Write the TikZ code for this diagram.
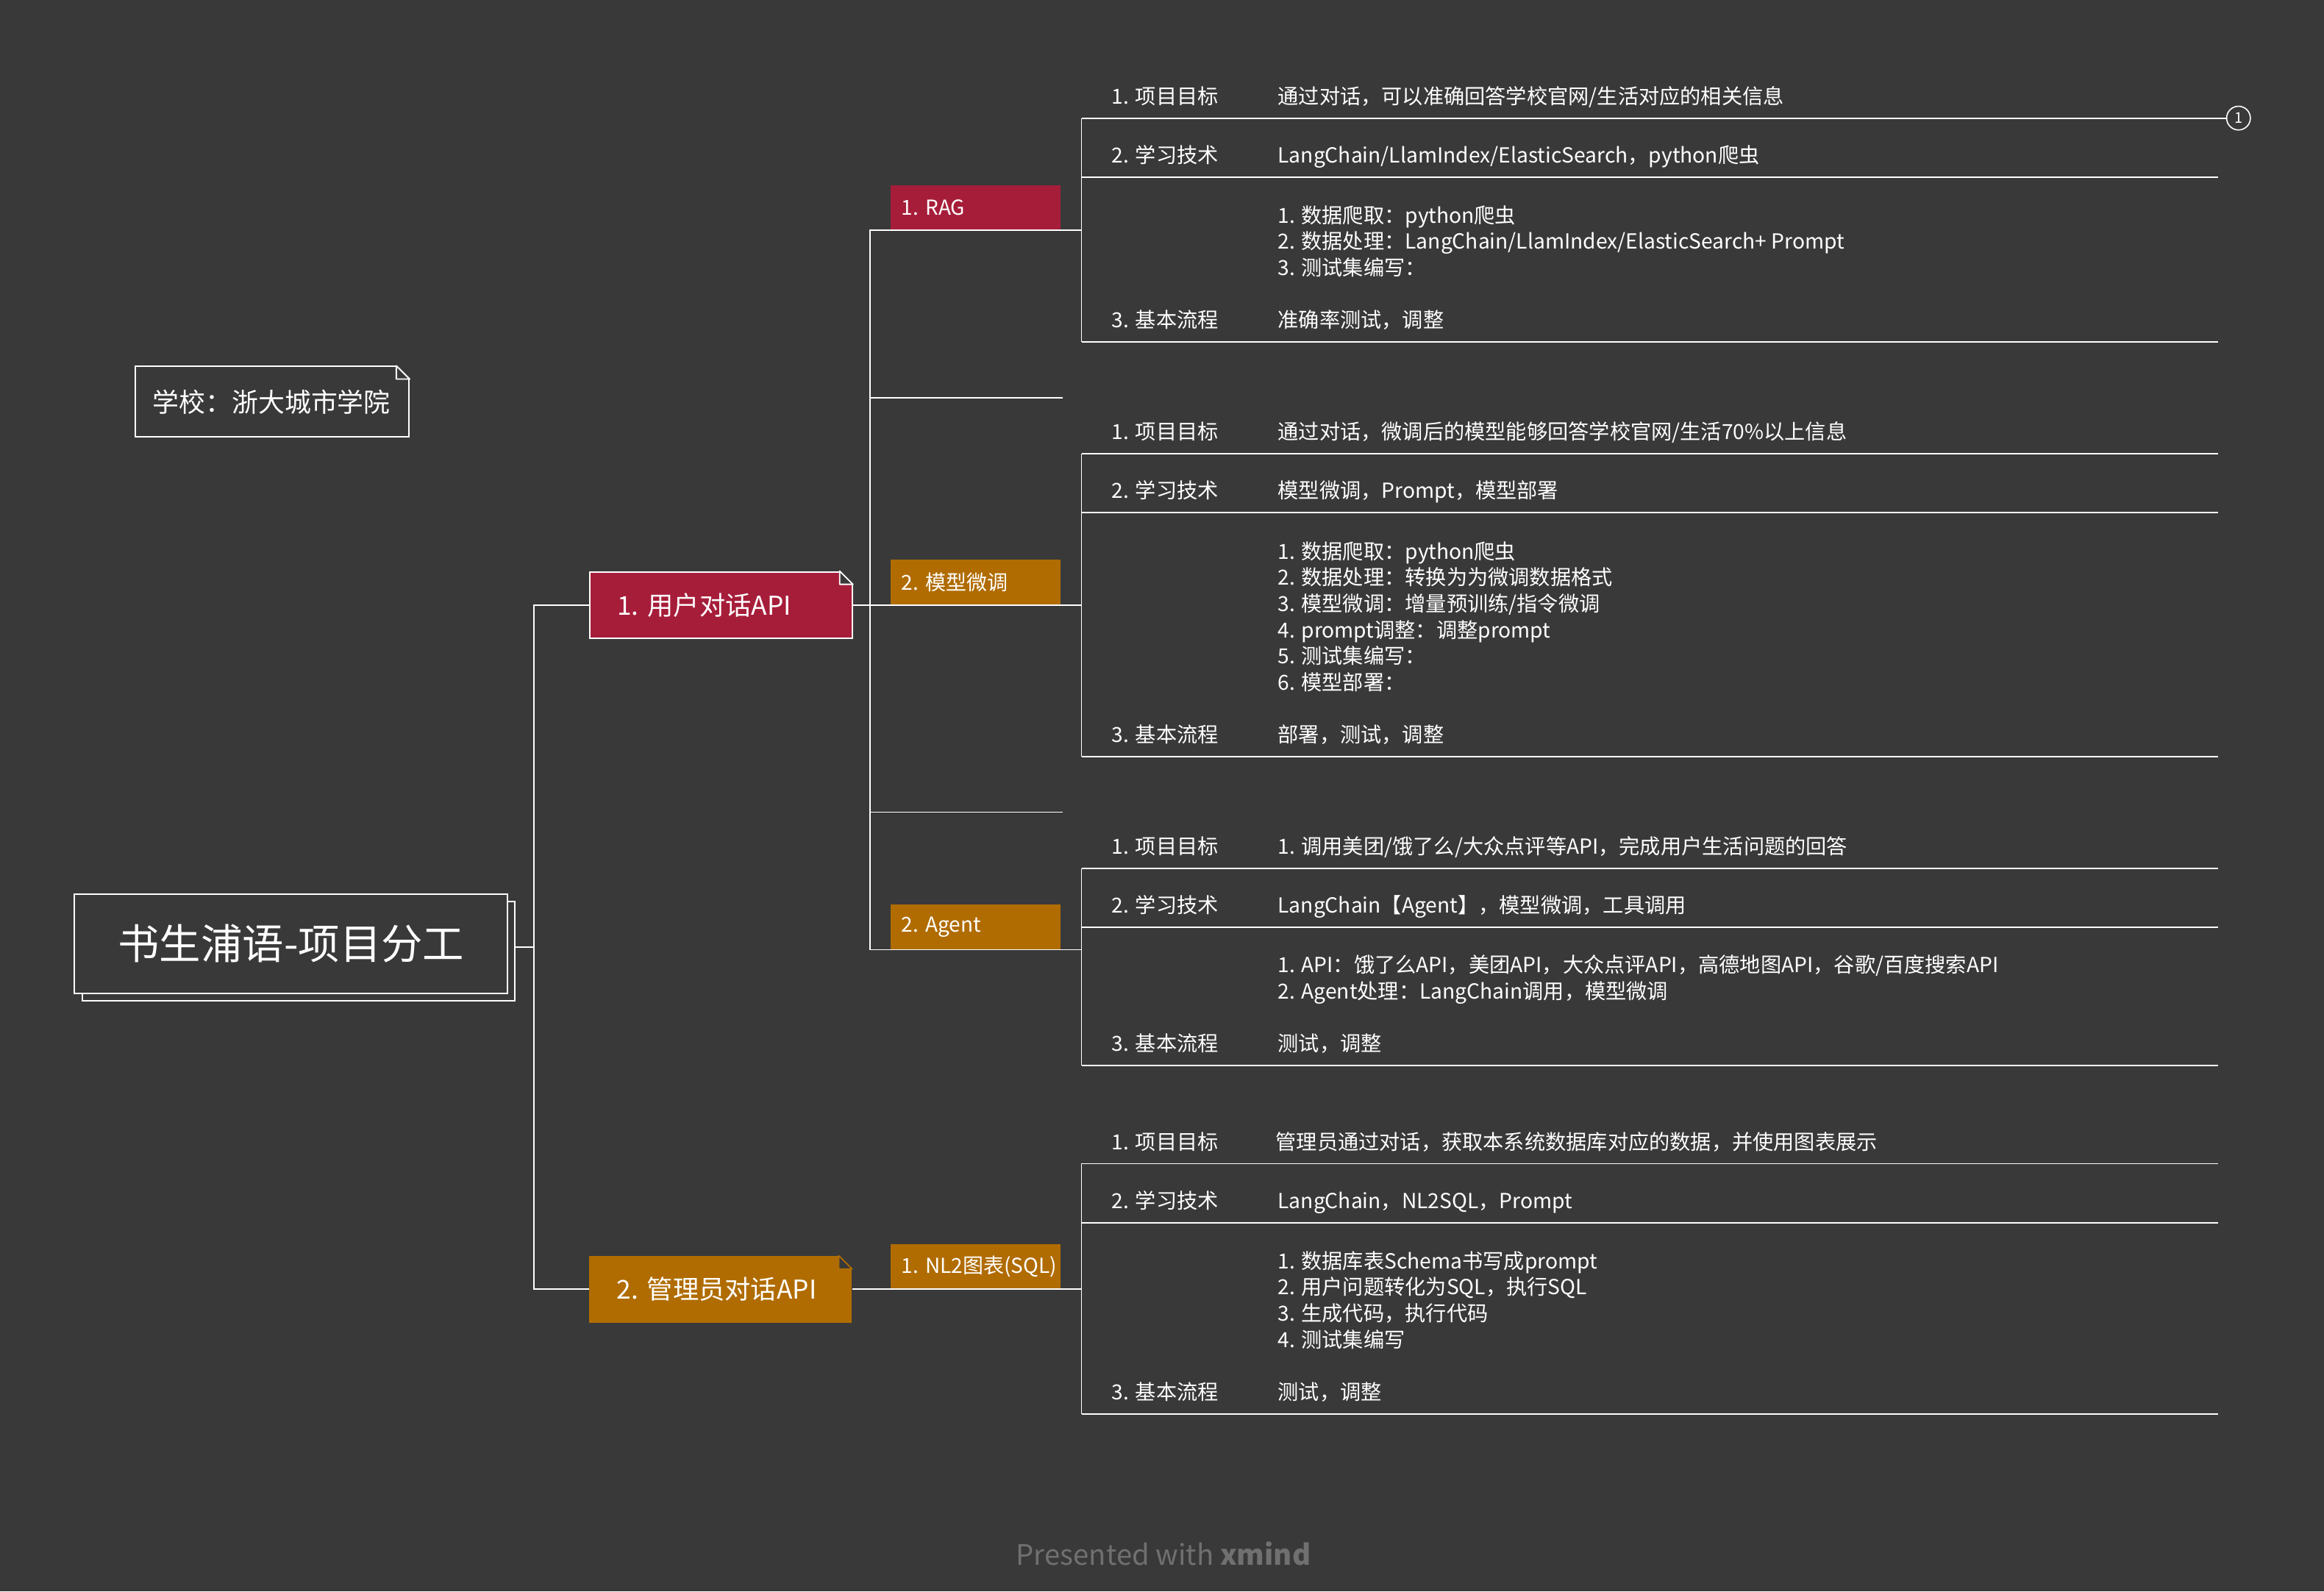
\documentclass[tikz,border=0pt]{standalone}
\usepackage{fontspec}
\setmainfont{Noto Sans CJK SC}
\usetikzlibrary{calc}
\usetikzlibrary{shadows}
\definecolor{bgdark}{RGB}{57,57,57}
\definecolor{topicred}{RGB}{166,29,58}
\definecolor{topicorange}{RGB}{176,108,0}
\definecolor{creditgray}{RGB}{112,112,112}
\newcommand\dogear[2]{%
  \fill[bgdark] ($(#1.north east)+(-9,-1)$) -- ($(#1.north east)+(1,-1)$) -- ($(#1.north east)+(1,9)$) -- ($(#1.north east)+(0,9)$) -- ($(#1.north east)+(-9,0)$) -- cycle;
  \draw[#2, fill=bgdark, line width=0.9pt, line join=round] ($(#1.north east)+(-9,0)$) -- ($(#1.north east)+(-9,9)$) -- ($(#1.north east)+(0,9)$) -- cycle;
}

\begin{document}
\begin{tikzpicture}[x=1pt, y=-1pt,
  link/.style={white, line width=0.9pt},
  topicone/.style={minimum height=45, text width=140, inner xsep=18.5, align=left, text=white, font=\fontsize{17.5}{21}\selectfont},
  topictwo/.style={minimum height=30.4, text width=100, inner xsep=7.5, align=left, text=white, font=\fontsize{13.9}{17.7}\selectfont},
  leaf/.style={anchor=base west, inner sep=0, align=left, text=white, font=\fontsize{14}{17.7}\selectfont}]

\fill[bgdark] (0,0) rectangle (1568,1073.8);
\useasboundingbox (0,0) rectangle (1568,1073.8);

\node[draw=white, line width=1pt, fill=bgdark, minimum height=47.5, text width=161.2, inner xsep=11.6, align=left, text=white, font=\fontsize{17.8}{22}\selectfont, anchor=north west] (school) at (91,246.8) {学校：浙大城市学院};
\dogear{school}{white}

\node[draw=white, line width=1pt, fill=bgdark, copy shadow={shadow xshift=5pt, shadow yshift=-5pt}, minimum width=292.1, minimum height=67, text=white, font=\fontsize{28}{32}\selectfont] (main) at (196.4,636.7) {书生浦语-项目分工};

\node[topicone, fill=topicred, draw=white, line width=1pt, anchor=west] (user) at (397.5,408.3) {1.~用户对话API};
\dogear{user}{white}
\node[topicone, fill=topicorange, anchor=west] (admin) at (397.5,870) {2.~管理员对话API};
\dogear{admin}{topicorange}

\coordinate (mainout) at (347.4,639);
\coordinate (trunk) at (360.3,639);
\draw[link] (mainout) -- (trunk);
\draw[link] (user.west) -| (trunk) |- (admin.west);

\node[topictwo, fill=topicred, anchor=south west] (rag) at (600.5,155.4) {1.~RAG};
\node[topictwo, fill=topicorange, anchor=south west] (tune) at (600.5,408.3) {2.~模型微调};
\node[topictwo, fill=topicorange, anchor=south west] (agent) at (600.5,640.8) {2.~Agent};
\node[topictwo, fill=topicorange, anchor=south west] (sql) at (600.5,870) {1.~NL2图表(SQL)};

\coordinate (branch) at (587.2,408.3);
\coordinate (blankA) at (717,268.3);
\coordinate (blankB) at (717,548);
\draw[link] (user.east) -- (tune.south west);
\draw[link] (rag.south west) -| (branch) |- (agent.south west);
\draw[link] (blankA) -- (blankA -| branch);
\draw[link] (blankB) -- (blankB -| branch);
\draw[link] (admin.east) -- (sql.south west);

\coordinate (ragjoin) at (729.7,155.4);
\coordinate (tunejoin) at (729.7,408.3);
\coordinate (agentjoin) at (729.7,640.8);
\coordinate (sqljoin) at (729.7,870);
\draw[link] (rag.south west) -- (ragjoin);
\draw[link] (tune.south west) -- (tunejoin);
\draw[link] (agent.south west) -- (agentjoin);
\draw[link] (sql.south west) -- (sqljoin);

\node[circle, draw=white, line width=0.8pt, minimum size=16, inner sep=0, text=white, font=\fontsize{10}{10}\selectfont] (fold) at (1510.3,79.7) {1};

\draw[link] (729.7,79.7) -- (729.7,230.7);
\draw[link] (729.7,79.7) -- (fold.west);
\draw[link] (729.7,119.4) -- (1496.5,119.4);
\draw[link] (729.7,230.7) -- (1496.5,230.7);

\draw[link] (729.7,306.2) -- (729.7,510.6);
\draw[link] (729.7,306.2) -- (1496.5,306.2);
\draw[link] (729.7,345.7) -- (1496.5,345.7);
\draw[link] (729.7,510.6) -- (1496.5,510.6);

\draw[link] (729.7,585.9) -- (729.7,718.9);
\draw[link] (729.7,585.9) -- (1496.5,585.9);
\draw[link] (729.7,625.6) -- (1496.5,625.6);
\draw[link] (729.7,718.9) -- (1496.5,718.9);

\draw[link] (729.7,785.2) -- (729.7,954);
\draw[link] (729.7,785.2) -- (1496.5,785.2);
\draw[link] (729.7,825) -- (1496.5,825);
\draw[link] (729.7,954) -- (1496.5,954);

\node[leaf] (ragGoal) at (750,70.2) {1. 项目目标};
\node[leaf] (ragGoalText) at (862,70.2) {通过对话，可以准确回答学校官网/生活对应的相关信息};
\node[leaf] (ragTech) at (750,109.9) {2. 学习技术};
\node[leaf] (ragTechText) at (862,109.9) {LangChain/LlamIndex/ElasticSearch，python爬虫};
\node[leaf] (ragFlow) at (750,221.2) {3. 基本流程};
\node[leaf] (ragFlowText) at (862,221.2) {1. 数据爬取：python爬虫\\2. 数据处理：LangChain/LlamIndex/ElasticSearch+ Prompt\\3. 测试集编写：\\[17.7pt]准确率测试，调整};

\node[leaf] (tuneGoal) at (750,296.7) {1. 项目目标};
\node[leaf] (tuneGoalText) at (862,296.7) {通过对话，微调后的模型能够回答学校官网/生活70\%以上信息};
\node[leaf] (tuneTech) at (750,336.2) {2. 学习技术};
\node[leaf] (tuneTechText) at (862,336.2) {模型微调，Prompt，模型部署};
\node[leaf] (tuneFlow) at (750,501.1) {3. 基本流程};
\node[leaf] (tuneFlowText) at (862,501.1) {1. 数据爬取：python爬虫\\2. 数据处理：转换为为微调数据格式\\3. 模型微调：增量预训练/指令微调\\4. prompt调整：调整prompt\\5. 测试集编写：\\6. 模型部署：\\[17.7pt]部署，测试，调整};

\node[leaf] (agentGoal) at (750,576.4) {1. 项目目标};
\node[leaf] (agentGoalText) at (862,576.4) {1. 调用美团/饿了么/大众点评等API，完成用户生活问题的回答};
\node[leaf] (agentTech) at (750,616.1) {2. 学习技术};
\node[leaf] (agentTechText) at (862,616.1) {LangChain【Agent】，模型微调，工具调用};
\node[leaf] (agentFlow) at (750,709.4) {3. 基本流程};
\node[leaf] (agentFlowText) at (862,709.4) {1. API：饿了么API，美团API，大众点评API，高德地图API，谷歌/百度搜索API\\2. Agent处理：LangChain调用，模型微调\\[17.7pt]测试，调整};

\node[leaf] (sqlGoal) at (750,775.7) {1. 项目目标};
\node[leaf] (sqlGoalText) at (860.5,775.7) {管理员通过对话，获取本系统数据库对应的数据，并使用图表展示};
\node[leaf] (sqlTech) at (750,815.5) {2. 学习技术};
\node[leaf] (sqlTechText) at (862,815.5) {LangChain，NL2SQL，Prompt};
\node[leaf] (sqlFlow) at (750,944.5) {3. 基本流程};
\node[leaf] (sqlFlowText) at (862,944.5) {1. 数据库表Schema书写成prompt\\2. 用户问题转化为SQL，执行SQL\\3. 生成代码，执行代码\\4. 测试集编写\\[17.7pt]测试，调整};

\node[text=creditgray, font=\fontsize{19}{22}\selectfont] (credit) at (785,1048.5) {Presented with \textbf{xmind}};

\end{tikzpicture}
\end{document}
